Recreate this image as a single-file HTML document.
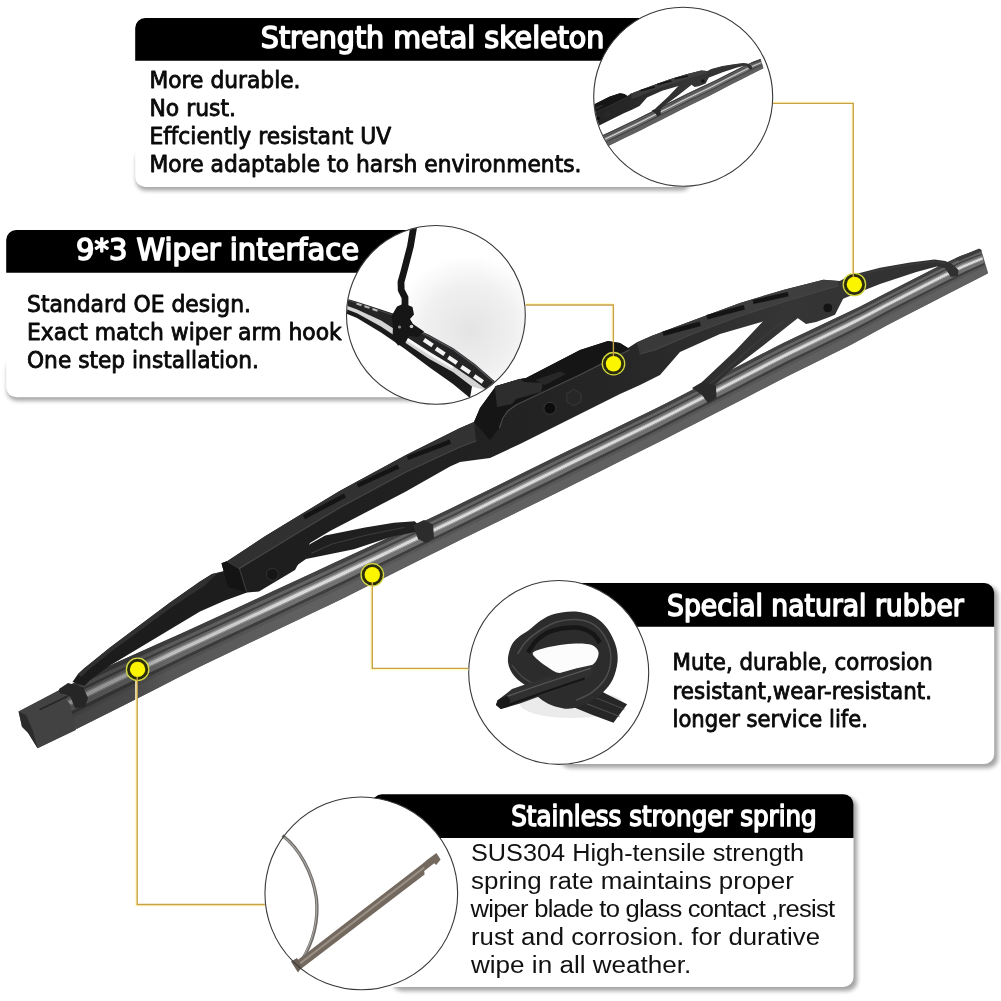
<!DOCTYPE html>
<html lang="en">
<head>
<meta charset="utf-8">
<title>Wiper blade features</title>
<style>
html,body{margin:0;padding:0;background:#fff;}
body{width:1001px;height:1001px;overflow:hidden;position:relative;}
svg{position:absolute;left:0;top:0;display:block;will-change:transform;}
.t{font-family:"DejaVu Sans","Liberation Sans",sans-serif;font-size:22.5px;fill:#0a0a0a;stroke:#0a0a0a;stroke-width:0.85px;stroke-linejoin:round;}
.h{font-family:"DejaVu Sans Condensed","DejaVu Sans","Liberation Sans",sans-serif;font-size:29.4px;fill:#fff;stroke:#fff;stroke-width:1.5px;stroke-linejoin:round;}
.a{font-family:"Liberation Sans",sans-serif;font-size:23px;fill:#111;}
.ln{fill:none;stroke:#c9a046;stroke-width:1.35;}
.gl{fill:none;stroke:#fffbc6;stroke-width:1.8;}
.ring{fill:#2c2c0e;stroke:#d3d93f;stroke-width:1.3;}
.dot{fill:#fbf500;}
.circo{fill:none;stroke:#383838;stroke-width:1.1;}
</style>
</head>
<body>
<svg width="1001" height="1001" viewBox="0 0 1001 1001">
<defs>
<filter id="sh" x="-5%" y="-50%" width="110%" height="200%"><feGaussianBlur stdDeviation="1.9"/><feComponentTransfer><feFuncA type="linear" slope="0.36"/></feComponentTransfer></filter>
<radialGradient id="g2" gradientUnits="userSpaceOnUse" cx="470" cy="330" r="75"><stop offset="0" stop-color="#e4e4e4"/><stop offset="0.6" stop-color="#f0f0f0"/><stop offset="1" stop-color="#fff"/></radialGradient>
<linearGradient id="gdk" gradientUnits="userSpaceOnUse" x1="60" y1="0" x2="300" y2="0"><stop offset="0" stop-color="#1c1c1c" stop-opacity="0.42"/><stop offset="0.3" stop-color="#1c1c1c" stop-opacity="0.34"/><stop offset="0.45" stop-color="#1c1c1c" stop-opacity="0.15"/><stop offset="1" stop-color="#1c1c1c" stop-opacity="0"/></linearGradient>
<linearGradient id="gbody" gradientUnits="userSpaceOnUse" x1="70" y1="0" x2="960" y2="0"><stop offset="0" stop-color="#1b1b1b"/><stop offset="0.45" stop-color="#212121"/><stop offset="0.62" stop-color="#262626"/><stop offset="0.8" stop-color="#353535"/><stop offset="1" stop-color="#303030"/></linearGradient>
<linearGradient id="gtop" gradientUnits="userSpaceOnUse" x1="70" y1="0" x2="960" y2="0"><stop offset="0" stop-color="#2e2e2e"/><stop offset="0.5" stop-color="#333"/><stop offset="0.8" stop-color="#3f3f3f"/><stop offset="1" stop-color="#3a3a3a"/></linearGradient>
<clipPath id="c1"><circle cx="683.2" cy="96.7" r="89"/></clipPath>
<clipPath id="c2"><circle cx="435.9" cy="314.9" r="89"/></clipPath>
<clipPath id="c3"><ellipse cx="558.7" cy="672.45" rx="89.5" ry="91.4"/></clipPath>
<clipPath id="c4"><circle cx="361.3" cy="893.2" r="95.6"/></clipPath>
</defs>
<rect width="1001" height="1001" fill="#fff"/>

<!-- PANELS -->
<g id="panels">
<g filter="url(#sh)" fill="#000">
<rect x="136" y="150" width="555" height="40.6" rx="10"/>
<rect x="7" y="360" width="440" height="40.8" rx="10"/>
<rect x="560" y="586" width="438" height="182" rx="10"/>
<rect x="392" y="797" width="465.2" height="194" rx="10"/>
</g>
<rect x="135.2" y="18" width="557" height="169" rx="10" fill="#fff"/>
<path d="M135.2 60.7V28a10 10 0 0 1 10-10H700v42.7z" fill="#000"/>
<rect x="6.2" y="230" width="442" height="167.2" rx="10" fill="#fff"/>
<path d="M6.2 272.8V240a10 10 0 0 1 10-10H450v42.8z" fill="#000"/>
<rect x="540" y="583" width="454.2" height="181" rx="10" fill="#fff"/>
<path d="M540 583H984.2a10 10 0 0 1 10 10v33.7H540z" fill="#000"/>
<rect x="372" y="794.2" width="481.5" height="192.8" rx="10" fill="#fff"/>
<path d="M372 838V804.2a10 10 0 0 1 10-10H843.500a10 10 0 0 1 10 10v33.8z" fill="#000"/>
</g>

<!-- TEXT -->
<g id="text">
<text class="h" x="260.8" y="48.2" textLength="343.6" lengthAdjust="spacingAndGlyphs">Strength metal skeleton</text>
<text class="t" x="149.5" y="87.8" textLength="151" lengthAdjust="spacingAndGlyphs">More durable.</text>
<text class="t" x="149.5" y="115.8" textLength="86.5" lengthAdjust="spacingAndGlyphs">No rust.</text>
<text class="t" x="149.5" y="143.6" textLength="241.7" lengthAdjust="spacingAndGlyphs">Effciently resistant UV</text>
<text class="t" x="149.5" y="171.6" textLength="432" lengthAdjust="spacingAndGlyphs">More adaptable to harsh environments.</text>

<text class="h" x="76" y="259.7" textLength="283" lengthAdjust="spacingAndGlyphs">9*3 Wiper interface</text>
<text class="t" x="27" y="312" textLength="224" lengthAdjust="spacingAndGlyphs">Standard OE design.</text>
<text class="t" x="27" y="340" textLength="314.7" lengthAdjust="spacingAndGlyphs">Exact match wiper arm hook</text>
<text class="t" x="27" y="367.5" textLength="232" lengthAdjust="spacingAndGlyphs">One step installation.</text>

<text class="h" x="667" y="615.8" textLength="296.8" lengthAdjust="spacingAndGlyphs">Special natural rubber</text>
<text class="t" x="672.5" y="670.3" textLength="260.3" lengthAdjust="spacingAndGlyphs">Mute, durable, corrosion</text>
<text class="t" x="672.5" y="698.7" textLength="259.5" lengthAdjust="spacingAndGlyphs">resistant,wear-resistant.</text>
<text class="t" x="672.5" y="726.9" textLength="195.5" lengthAdjust="spacingAndGlyphs">longer service life.</text>

<text class="h" x="511.2" y="825.7" textLength="305.5" lengthAdjust="spacingAndGlyphs" style="font-size:28px">Stainless stronger spring</text>
<text class="a" x="471" y="861.2" textLength="333" lengthAdjust="spacingAndGlyphs">SUS304 High-tensile strength</text>
<text class="a" x="471" y="889" textLength="322.8" lengthAdjust="spacingAndGlyphs">spring rate maintains proper</text>
<text class="a" x="470.5" y="917" textLength="363.8" lengthAdjust="spacingAndGlyphs" style="letter-spacing:-0.68px">wiper blade to glass contact ,resist</text>
<text class="a" x="471" y="944.9" textLength="349" lengthAdjust="spacingAndGlyphs">rust and corrosion. for durative</text>
<text class="a" x="471" y="973" textLength="220.3" lengthAdjust="spacingAndGlyphs">wipe in all weather.</text>
</g>

<!-- CIRCLES -->
<g id="circles">
<circle cx="683.2" cy="96.7" r="89.5" fill="#fff"/>
<g clip-path="url(#c1)"><use href="#wiper" transform="translate(390,-33.5) scale(0.378,0.372)"/></g>
<circle class="circo" cx="683.2" cy="96.7" r="89.5"/>
<circle cx="435.9" cy="314.9" r="89.4" fill="#fff"/>
<g clip-path="url(#c2)">
<rect x="346" y="225" width="180" height="180" fill="url(#g2)"/>
<path d="M346.0 305.0 L357.0 309.6 L381.0 320.4 L405.0 336.0 L429.0 351.5 L453.0 365.9 L475.0 381.0 L486.0 389.0 L486.0 410.0 L346.0 410.0Z" fill="#fff" />
<path d="M345.0 305.2 L357.0 309.6 L381.0 320.4 L405.0 336.0 L429.0 351.5 L453.0 365.9 L475.0 381.0 L488.0 391.0 L472.0 386.5 L453.0 372.0 L429.0 358.7 L405.0 342.5 L381.0 326.4 L357.0 313.2 L345.0 308.6Z" fill="#d4d4d4" />
<path d="M405.0 336.0 L429.0 351.5 L453.0 365.9 L453.0 369.0 L429.0 355.0 L405.0 339.5Z" fill="#f6f6f6" />
<path d="M345.0 308.6 L357.0 313.2 L381.0 326.4 L405.0 342.5 L429.0 358.7 L453.0 372.0 L472.0 386.5 L470.0 398.0 L453.0 384.0 L429.0 367.0 L405.0 349.0 L381.0 332.4 L357.0 318.0 L345.0 313.2Z" fill="#1b1b1b" />
<path d="M345.0 298.2 L357.0 301.8 L381.0 309.6 L396.0 314.5 L412.0 327.0 L429.0 334.7 L453.0 347.9 L475.0 364.0 L495.0 381.5 L488.0 391.0 L475.0 381.0 L453.0 365.9 L429.0 351.5 L405.0 336.0 L381.0 320.4 L357.0 309.6 L345.0 305.2Z" fill="#242424" />
<path d="M346.0 299.5 L357.0 303.0 L381.0 311.0 L396.0 316.0" fill="none" stroke="#4a4a4a" stroke-width="1" stroke-linecap="round" stroke-linejoin="round" />
<path d="M413.0 329.0 L429.0 336.2 L453.0 349.4 L475.0 365.5 L493.0 381.5" fill="none" stroke="#55555c" stroke-width="1.2" stroke-linecap="round" stroke-linejoin="round" />
<path d="M356.5 303.6L361.5 305.2" stroke="#b9b9b9" stroke-width="2" stroke-linecap="butt" fill="none"/>
<path d="M364.5 306.2L369.5 307.9" stroke="#b9b9b9" stroke-width="2" stroke-linecap="butt" fill="none"/>
<path d="M372.5 309.0L377.5 310.8" stroke="#b9b9b9" stroke-width="2" stroke-linecap="butt" fill="none"/>
<path d="M424.0 339.7L432.6 345.5" stroke="#f4f4f4" stroke-width="4.2" stroke-linecap="butt" fill="none"/>
<path d="M435.9 348.5L444.5 354.3" stroke="#f4f4f4" stroke-width="4.2" stroke-linecap="butt" fill="none"/>
<path d="M448.3 357.3L456.9 363.1" stroke="#f4f4f4" stroke-width="4.2" stroke-linecap="butt" fill="none"/>
<path d="M461.3 366.7L469.9 372.5" stroke="#f4f4f4" stroke-width="4.2" stroke-linecap="butt" fill="none"/>
<path d="M474.2 376.1L482.8 381.9" stroke="#f4f4f4" stroke-width="4.2" stroke-linecap="butt" fill="none"/>
<path d="M391.5 316.0 L397.0 306.5 L404.0 303.5 L412.5 307.0 L414.0 314.5 L410.0 319.0 L413.0 324.0 L424.0 331.5 L418.0 337.0 L409.0 336.0 L405.0 343.5 L398.0 345.5 L392.5 338.0 L393.0 326.0Z" fill="#161616" />
<circle cx="399.5" cy="327" r="1.6" fill="#8a8a8a"/><circle cx="411.5" cy="326.5" r="1.8" fill="#cfcfcf"/>
<path d="M414.0 225.0 L410.5 246.0 L404.3 270.0 L401.0 282.0 L401.2 290.0 L405.0 297.5 L405.0 308.0" fill="none" stroke="#161616" stroke-width="6.8" stroke-linecap="round" stroke-linejoin="round" />
</g>
<circle class="circo" cx="435.9" cy="314.9" r="89.4"/>
<ellipse cx="558.7" cy="672.45" rx="90" ry="91.95" fill="#fff"/>
<g clip-path="url(#c3)">
<ellipse cx="572" cy="704" rx="52" ry="14" fill="#e6e6e6" opacity="0.8"/>
<path d="M591.9 685.9 L606.3 693.9 L627.1 704.3 L613.5 722.7 L591.9 714.7 L574.3 707.5Z" fill="#262626" />
<path d="M582.3 701.9 L619.1 716.3" fill="none" stroke="#4c4c4c" stroke-width="1.1" stroke-linecap="round" stroke-linejoin="round" />
<path d="M590.3 695.5 L623.9 709.1" fill="none" stroke="#474747" stroke-width="1.1" stroke-linecap="round" stroke-linejoin="round" />
<path d="M508.0 661.9C507.4 656.9 509.4 650.1 511.2 645.9C512.9 641.8 515.6 639.7 518.4 637.2C521.2 634.6 524.2 633.6 528.0 630.8C531.7 628.0 536.2 623.2 540.7 620.4C545.3 617.5 549.3 615.1 555.1 613.7C561.0 612.2 569.2 611.0 575.9 611.6C582.6 612.2 589.8 614.2 595.1 617.2C600.4 620.1 604.4 624.4 607.9 629.2C611.3 634.0 614.3 640.5 615.9 645.9C617.5 651.4 618.0 656.3 617.5 661.9C616.9 667.5 615.1 674.5 612.7 679.5C610.3 684.6 607.1 688.4 603.1 692.3C599.1 696.2 594.0 700.0 588.7 702.7C583.4 705.4 576.7 708.0 571.1 708.6C565.5 709.2 559.9 707.8 555.1 706.4C550.3 705.0 546.9 703.4 542.3 700.3C537.8 697.2 532.6 691.5 528.0 687.5C523.3 683.5 517.7 680.6 514.4 676.3C511.0 672.1 508.5 667.0 508.0 661.9Z" fill="#2c2c2c"/>
<path d="M517.6 653.9C519.0 651.8 522.5 645.1 526.4 641.2C530.2 637.2 535.7 633.2 540.7 630.0C545.8 626.8 550.9 623.7 556.7 622.0C562.6 620.2 569.8 619.2 575.9 619.6C582.0 620.0 588.7 621.6 593.5 624.4C598.3 627.2 601.9 632.0 604.7 636.4C607.5 640.8 609.3 645.9 610.3 650.7C611.2 655.5 611.2 660.3 610.3 665.1C609.3 669.9 607.7 675.0 604.7 679.5C601.6 684.0 596.7 688.8 591.9 692.3C587.1 695.8 578.6 699.0 575.9 700.3" fill="none" stroke="#4e4e4e" stroke-width="1.5"/>
<path d="M528.0 652.3C529.6 650.2 533.5 643.1 537.5 639.6C541.5 636.0 545.5 632.8 551.9 630.8C558.3 628.8 569.2 627.2 575.9 627.6C582.6 628.0 587.9 630.6 591.9 633.2C595.9 635.7 598.6 641.2 599.9 642.7" fill="none" stroke="#161616" stroke-width="4.5"/>
<path d="M512.0 665.1C513.6 667.0 518.1 673.3 521.6 676.3C525.0 679.4 528.5 681.4 532.7 683.5C537.0 685.6 544.7 688.2 547.1 689.1" fill="none" stroke="#4a4a4a" stroke-width="1.2"/>
<path d="M532.7 653.9C532.2 650.9 539.4 649.8 543.9 648.3C548.5 646.9 554.6 645.9 559.9 645.1C565.3 644.3 570.6 643.5 575.9 643.5C581.2 643.5 588.1 643.5 591.9 645.1C595.7 646.7 598.5 649.9 598.6 653.1C598.7 656.4 596.5 662.1 592.7 664.8C588.9 667.5 581.4 667.7 575.9 669.1C570.4 670.5 564.7 673.5 559.9 673.1C555.1 672.7 551.7 669.9 547.1 666.7C542.6 663.5 533.3 657.0 532.7 653.9Z" fill="#fcfcfc"/>
<path d="M595.1 664.3 L575.9 668.6 L559.9 673.1 L528.0 683.5 L512.0 689.1 L497.6 700.3 L496.0 705.1 L500.8 709.1 L520.0 703.5 L543.9 694.7 L569.5 685.9 L590.3 677.1Z" fill="#303030" />
<path d="M507.2 696.3 L543.9 683.5 L590.3 668.3" fill="none" stroke="#585858" stroke-width="1.3" stroke-linecap="round" stroke-linejoin="round" />
<path d="M504.0 706.7 L543.9 692.3 L583.9 678.7" fill="none" stroke="#151515" stroke-width="2.2" stroke-linecap="round" stroke-linejoin="round" />
<path d="M497.6 700.3 L496.0 705.1 L500.8 709.1 L508.0 706.4 L510.4 700.3 L507.2 695.5Z" fill="#1a1a1a" />
</g>
<ellipse class="circo" cx="558.7" cy="672.45" rx="90" ry="91.95"/>
<circle cx="361.3" cy="893.4" r="96.35" fill="#fff"/>
<g>
<path d="M282.5 835.5C299 848 312.5 872 316.4 898C319 922 312 944 301.5 961" fill="none" stroke="#6f6c68" stroke-width="3.3"/>
<path d="M283 836.2C299.5 849 312.8 872.5 316.2 898C318.6 921.5 311.5 943.5 301.3 960.5" fill="none" stroke="#a9a7a3" stroke-width="1.1"/>
<path d="M293.4 963.3 L298.2 971.0 L424.6 874.4 L424.2 871.0 L434.2 863.2 L436.2 865.0 L440.6 859.6 L436.4 853.0 L427.6 859.6 L421.6 864.4Z" fill="#74695f" />
<path d="M296.8 966.0 L423.5 868.0" fill="none" stroke="#9a8f84" stroke-width="2.2" stroke-linecap="round" stroke-linejoin="round" />
<path d="M291.0 961.5 L297.0 958.0 L302.0 966.5 L298.0 972.5Z" fill="#6a5f55" />
</g>
<circle class="circo" cx="361.3" cy="893.4" r="96.35"/>
</g>

<!-- WIPER -->
<g id="wiper">
<path d="M18.6 711.4 L39.1 700.7 L59.6 690.0 L80.0 680.0 L100.5 670.0 L121.0 660.5 L141.5 651.3 L161.9 642.1 L182.4 632.9 L202.9 623.7 L223.4 614.2 L243.8 604.7 L264.3 595.2 L284.8 585.8 L305.3 576.3 L325.7 566.8 L346.2 557.3 L366.7 547.8 L387.2 538.2 L407.7 528.7 L428.1 519.2 L448.6 509.6 L469.1 499.6 L489.6 489.5 L510.0 479.4 L530.5 469.3 L551.0 459.1 L571.5 449.2 L591.9 439.3 L612.4 429.4 L632.9 419.6 L653.4 409.7 L673.9 399.4 L694.3 388.8 L714.8 378.3 L735.3 367.7 L755.8 357.1 L776.2 346.5 L796.7 336.6 L817.2 326.9 L837.7 317.2 L858.1 307.5 L878.6 296.9 L899.1 286.4 L919.6 276.0 L940.0 265.6 L960.5 256.0 L981.0 249.0 L988.2 273.2 L968.0 283.6 L947.7 294.0 L927.5 304.4 L907.3 314.8 L887.1 325.2 L866.8 336.3 L846.6 346.9 L826.4 356.9 L806.2 367.0 L785.9 377.0 L765.7 387.4 L745.5 397.9 L725.3 408.2 L705.0 418.5 L684.8 428.8 L664.6 439.2 L644.4 449.3 L624.1 459.3 L603.9 469.4 L583.7 479.4 L563.5 489.5 L543.2 499.4 L523.0 509.3 L502.8 519.2 L482.6 529.1 L462.3 539.0 L442.1 548.9 L421.9 559.0 L401.7 569.1 L381.4 579.2 L361.2 589.3 L341.0 599.4 L320.8 609.1 L300.5 618.7 L280.3 628.3 L260.1 637.9 L239.9 647.5 L219.6 657.2 L199.4 666.8 L179.2 677.1 L159.0 687.4 L138.7 697.7 L118.5 707.9 L98.3 718.0 L78.1 728.1 L57.8 738.2 L37.6 748.3Z" fill="#5e5e5e" />
<path d="M58.0 690.8 L77.6 681.2 L97.2 671.6 L116.9 662.3 L136.5 653.5 L156.1 644.7 L175.7 635.9 L195.3 627.1 L214.9 618.1 L234.6 609.0 L254.2 599.9 L273.8 590.8 L293.4 581.8 L313.0 572.7 L332.6 563.6 L352.3 554.5 L371.9 545.4 L391.5 536.2 L411.1 527.1 L430.7 518.0 L450.3 508.8 L470.0 499.1 L489.6 489.5 L509.2 479.8 L528.8 470.1 L548.4 460.4 L568.0 450.8 L587.7 441.4 L607.3 431.9 L626.9 422.5 L646.5 413.0 L666.1 403.3 L685.7 393.2 L705.4 383.1 L725.0 373.0 L744.6 362.9 L764.2 352.7 L783.8 342.7 L803.4 333.4 L823.1 324.1 L842.7 314.8 L862.3 305.4 L881.9 295.2 L901.5 285.2 L921.1 275.2 L940.8 265.3 L960.4 256.1 L980.0 249.0 L980.8 251.7 L961.2 259.1 L941.6 268.4 L922.0 278.3 L902.4 288.3 L882.8 298.3 L863.2 308.5 L843.7 318.1 L824.1 327.4 L804.5 336.7 L784.9 346.1 L765.3 356.0 L745.7 366.2 L726.1 376.3 L706.5 386.4 L686.9 396.5 L667.3 406.6 L647.8 416.3 L628.2 425.7 L608.6 435.2 L589.0 444.7 L569.4 454.2 L549.8 463.7 L530.2 473.4 L510.6 483.1 L491.0 492.7 L471.4 502.4 L451.8 512.1 L432.3 521.2 L412.7 530.4 L393.1 539.6 L373.5 548.8 L353.9 558.0 L334.3 567.2 L314.7 576.3 L295.1 585.4 L275.5 594.5 L255.9 603.6 L236.4 612.7 L216.8 621.8 L197.2 630.8 L177.6 639.7 L158.0 648.6 L138.4 657.5 L118.8 666.5 L99.2 675.8 L79.6 685.4 L60.0 695.0Z" fill="#424242" />
<path d="M60.0 695.0 L79.6 685.4 L99.2 675.8 L118.8 666.5 L138.4 657.5 L158.0 648.6 L177.6 639.7 L197.2 630.8 L216.8 621.8 L236.4 612.7 L255.9 603.6 L275.5 594.5 L295.1 585.4 L314.7 576.3 L334.3 567.2 L353.9 558.0 L373.5 548.8 L393.1 539.6 L412.7 530.4 L432.3 521.2 L451.8 512.1 L471.4 502.4 L491.0 492.7 L510.6 483.1 L530.2 473.4 L549.8 463.7 L569.4 454.2 L589.0 444.7 L608.6 435.2 L628.2 425.7 L647.8 416.3 L667.3 406.6 L686.9 396.5 L706.5 386.4 L726.1 376.3 L745.7 366.2 L765.3 356.0 L784.9 346.1 L804.5 336.7 L824.1 327.4 L843.7 318.1 L863.2 308.5 L882.8 298.3 L902.4 288.3 L922.0 278.3 L941.6 268.4 L961.2 259.1 L980.8 251.7 L981.4 253.7 L961.8 261.3 L942.2 270.7 L922.7 280.6 L903.1 290.6 L883.5 300.6 L863.9 310.8 L844.4 320.4 L824.8 329.8 L805.2 339.1 L785.7 348.5 L766.1 358.5 L746.5 368.6 L726.9 378.7 L707.4 388.8 L687.8 398.9 L668.2 408.9 L648.7 418.6 L629.1 428.1 L609.5 437.6 L589.9 447.1 L570.4 456.6 L550.8 466.2 L531.2 475.8 L511.7 485.5 L492.1 495.1 L472.5 504.8 L452.9 514.4 L433.4 523.6 L413.8 532.8 L394.2 542.1 L374.7 551.3 L355.1 560.5 L335.5 569.8 L315.9 578.9 L296.4 588.0 L276.8 597.1 L257.2 606.2 L237.7 615.3 L218.1 624.4 L198.5 633.5 L178.9 642.4 L159.4 651.4 L139.8 660.4 L120.2 669.5 L100.7 678.8 L81.1 688.4 L61.5 698.0Z" fill="#656565" />
<path d="M61.5 698.0 L81.1 688.4 L100.7 678.8 L120.2 669.5 L139.8 660.4 L159.4 651.4 L178.9 642.4 L198.5 633.5 L218.1 624.4 L237.7 615.3 L257.2 606.2 L276.8 597.1 L296.4 588.0 L315.9 578.9 L335.5 569.8 L355.1 560.5 L374.7 551.3 L394.2 542.1 L413.8 532.8 L433.4 523.6 L452.9 514.4 L472.5 504.8 L492.1 495.1 L511.7 485.5 L531.2 475.8 L550.8 466.2 L570.4 456.6 L589.9 447.1 L609.5 437.6 L629.1 428.1 L648.7 418.6 L668.2 408.9 L687.8 398.9 L707.4 388.8 L726.9 378.7 L746.5 368.6 L766.1 358.5 L785.7 348.5 L805.2 339.1 L824.8 329.8 L844.4 320.4 L863.9 310.8 L883.5 300.6 L903.1 290.6 L922.7 280.6 L942.2 270.7 L961.8 261.3 L981.4 253.7 L981.8 255.1 L962.2 262.8 L942.7 272.2 L923.1 282.1 L903.5 292.1 L884.0 302.1 L864.4 312.4 L844.9 322.1 L825.3 331.4 L805.7 340.8 L786.2 350.2 L766.6 360.1 L747.1 370.3 L727.5 380.4 L708.0 390.4 L688.4 400.5 L668.8 410.5 L649.3 420.3 L629.7 429.7 L610.2 439.2 L590.6 448.7 L571.0 458.2 L551.5 467.8 L531.9 477.5 L512.4 487.1 L492.8 496.7 L473.3 506.4 L453.7 516.0 L434.1 525.2 L414.6 534.5 L395.0 543.8 L375.5 553.0 L355.9 562.3 L336.3 571.5 L316.8 580.7 L297.2 589.8 L277.7 598.9 L258.1 608.0 L238.6 617.2 L219.0 626.3 L199.4 635.3 L179.9 644.3 L160.3 653.4 L140.8 662.4 L121.2 671.5 L101.7 680.9 L82.1 690.5 L62.5 700.1Z" fill="#434343" />
<path d="M62.5 700.1 L82.1 690.5 L101.7 680.9 L121.2 671.5 L140.8 662.4 L160.3 653.4 L179.9 644.3 L199.4 635.3 L219.0 626.3 L238.6 617.2 L258.1 608.0 L277.7 598.9 L297.2 589.8 L316.8 580.7 L336.3 571.5 L355.9 562.3 L375.5 553.0 L395.0 543.8 L414.6 534.5 L434.1 525.2 L453.7 516.0 L473.3 506.4 L492.8 496.7 L512.4 487.1 L531.9 477.5 L551.5 467.8 L571.0 458.2 L590.6 448.7 L610.2 439.2 L629.7 429.7 L649.3 420.3 L668.8 410.5 L688.4 400.5 L708.0 390.4 L727.5 380.4 L747.1 370.3 L766.6 360.1 L786.2 350.2 L805.7 340.8 L825.3 331.4 L844.9 322.1 L864.4 312.4 L884.0 302.1 L903.5 292.1 L923.1 282.1 L942.7 272.2 L962.2 262.8 L981.8 255.1 L982.2 256.7 L962.7 264.6 L943.2 274.1 L923.6 284.0 L904.1 294.0 L884.5 304.0 L865.0 314.3 L845.4 324.0 L825.9 333.4 L806.4 342.8 L786.8 352.2 L767.3 362.1 L747.7 372.3 L728.2 382.4 L708.6 392.4 L689.1 402.4 L669.6 412.5 L650.0 422.2 L630.5 431.7 L610.9 441.2 L591.4 450.7 L571.8 460.2 L552.3 469.8 L532.8 479.4 L513.2 489.1 L493.7 498.7 L474.1 508.3 L454.6 517.9 L435.0 527.2 L415.5 536.5 L396.0 545.8 L376.4 555.1 L356.9 564.4 L337.3 573.7 L317.8 582.8 L298.2 592.0 L278.7 601.1 L259.2 610.2 L239.6 619.3 L220.1 628.4 L200.5 637.5 L181.0 646.5 L161.5 655.7 L141.9 664.8 L122.4 674.0 L102.8 683.4 L83.3 693.0 L63.7 702.6Z" fill="#707070" />
<path d="M63.6 702.2 L83.1 692.6 L102.6 683.0 L122.2 673.6 L141.7 664.4 L161.3 655.3 L180.8 646.2 L200.4 637.2 L219.9 628.1 L239.5 619.0 L259.0 609.9 L278.5 600.7 L298.1 591.6 L317.6 582.5 L337.2 573.3 L356.7 564.0 L376.3 554.8 L395.8 545.5 L415.4 536.2 L434.9 526.9 L454.5 517.6 L474.0 508.0 L493.5 498.4 L513.1 488.8 L532.6 479.1 L552.2 469.5 L571.7 459.9 L591.3 450.4 L610.8 440.9 L630.4 431.4 L649.9 421.9 L669.4 412.2 L689.0 402.1 L708.5 392.1 L728.1 382.1 L747.6 372.0 L767.2 361.8 L786.7 351.9 L806.3 342.5 L825.8 333.1 L845.3 323.7 L864.9 314.0 L884.4 303.7 L904.0 293.7 L923.5 283.7 L943.1 273.8 L962.6 264.3 L982.2 256.4 L982.4 257.2 L962.8 265.2 L943.3 274.6 L923.8 284.5 L904.2 294.5 L884.7 304.6 L865.2 314.8 L845.6 324.6 L826.1 334.0 L806.5 343.4 L787.0 352.8 L767.5 362.7 L747.9 372.9 L728.4 383.0 L708.9 393.0 L689.3 403.0 L669.8 413.0 L650.2 422.8 L630.7 432.3 L611.2 441.8 L591.6 451.3 L572.1 460.8 L552.6 470.4 L533.0 480.0 L513.5 489.7 L493.9 499.3 L474.4 508.9 L454.9 518.5 L435.3 527.8 L415.8 537.1 L396.3 546.4 L376.7 555.7 L357.2 565.0 L337.6 574.3 L318.1 583.5 L298.6 592.6 L279.0 601.7 L259.5 610.9 L239.9 620.0 L220.4 629.1 L200.9 638.2 L181.3 647.2 L161.8 656.4 L142.3 665.5 L122.7 674.7 L103.2 684.1 L83.6 693.8 L64.1 703.4Z" fill="#a2a2a2" />
<path d="M64.1 703.4 L83.6 693.8 L103.2 684.1 L122.7 674.7 L142.3 665.5 L161.8 656.4 L181.3 647.2 L200.9 638.2 L220.4 629.1 L239.9 620.0 L259.5 610.9 L279.0 601.7 L298.6 592.6 L318.1 583.5 L337.6 574.3 L357.2 565.0 L376.7 555.7 L396.3 546.4 L415.8 537.1 L435.3 527.8 L454.9 518.5 L474.4 508.9 L493.9 499.3 L513.5 489.7 L533.0 480.0 L552.6 470.4 L572.1 460.8 L591.6 451.3 L611.2 441.8 L630.7 432.3 L650.2 422.8 L669.8 413.0 L689.3 403.0 L708.9 393.0 L728.4 383.0 L747.9 372.9 L767.5 362.7 L787.0 352.8 L806.5 343.4 L826.1 334.0 L845.6 324.6 L865.2 314.8 L884.7 304.6 L904.2 294.5 L923.8 284.5 L943.3 274.6 L962.8 265.2 L982.4 257.2 L983.1 259.5 L963.6 267.8 L944.0 277.3 L924.5 287.2 L905.0 297.2 L885.5 307.2 L866.0 317.5 L846.5 327.4 L826.9 336.8 L807.4 346.3 L787.9 355.7 L768.4 365.6 L748.9 375.7 L729.4 385.8 L709.9 395.8 L690.3 405.8 L670.8 415.8 L651.3 425.6 L631.8 435.1 L612.3 444.6 L592.8 454.2 L573.3 463.7 L553.7 473.3 L534.2 482.9 L514.7 492.5 L495.2 502.1 L475.7 511.7 L456.2 521.3 L436.7 530.6 L417.1 539.9 L397.6 549.3 L378.1 558.7 L358.6 568.0 L339.1 577.4 L319.6 586.6 L300.0 595.7 L280.5 604.9 L261.0 614.0 L241.5 623.1 L222.0 632.3 L202.5 641.4 L183.0 650.5 L163.4 659.7 L143.9 669.0 L124.4 678.3 L104.9 687.7 L85.4 697.4 L65.9 707.0Z" fill="#dadada" />
<path d="M65.9 707.0 L85.4 697.4 L104.9 687.7 L124.4 678.3 L143.9 669.0 L163.4 659.7 L183.0 650.5 L202.5 641.4 L222.0 632.3 L241.5 623.1 L261.0 614.0 L280.5 604.9 L300.0 595.7 L319.6 586.6 L339.1 577.4 L358.6 568.0 L378.1 558.7 L397.6 549.3 L417.1 539.9 L436.7 530.6 L456.2 521.3 L475.7 511.7 L495.2 502.1 L514.7 492.5 L534.2 482.9 L553.7 473.3 L573.3 463.7 L592.8 454.2 L612.3 444.6 L631.8 435.1 L651.3 425.6 L670.8 415.8 L690.3 405.8 L709.9 395.8 L729.4 385.8 L748.9 375.7 L768.4 365.6 L787.9 355.7 L807.4 346.3 L826.9 336.8 L846.5 327.4 L866.0 317.5 L885.5 307.2 L905.0 297.2 L924.5 287.2 L944.0 277.3 L963.6 267.8 L983.1 259.5 L983.3 260.2 L963.8 268.6 L944.3 278.2 L924.8 288.1 L905.3 298.1 L885.7 308.1 L866.2 318.4 L846.7 328.3 L827.2 337.7 L807.7 347.2 L788.2 356.6 L768.7 366.5 L749.2 376.6 L729.7 386.7 L710.2 396.7 L690.7 406.7 L671.2 416.7 L651.7 426.5 L632.1 436.0 L612.6 445.5 L593.1 455.1 L573.6 464.6 L554.1 474.2 L534.6 483.8 L515.1 493.4 L495.6 503.0 L476.1 512.6 L456.6 522.2 L437.1 531.5 L417.6 540.9 L398.1 550.2 L378.5 559.6 L359.0 569.0 L339.5 578.4 L320.0 587.6 L300.5 596.7 L281.0 605.9 L261.5 615.0 L242.0 624.1 L222.5 633.3 L203.0 642.4 L183.5 651.5 L164.0 660.8 L144.5 670.1 L124.9 679.4 L105.4 688.9 L85.9 698.5 L66.4 708.1Z" fill="#9c9c9c" />
<path d="M66.4 708.1 L85.9 698.5 L105.4 688.9 L124.9 679.4 L144.5 670.1 L164.0 660.8 L183.5 651.5 L203.0 642.4 L222.5 633.3 L242.0 624.1 L261.5 615.0 L281.0 605.9 L300.5 596.7 L320.0 587.6 L339.5 578.4 L359.0 569.0 L378.5 559.6 L398.1 550.2 L417.6 540.9 L437.1 531.5 L456.6 522.2 L476.1 512.6 L495.6 503.0 L515.1 493.4 L534.6 483.8 L554.1 474.2 L573.6 464.6 L593.1 455.1 L612.6 445.5 L632.1 436.0 L651.7 426.5 L671.2 416.7 L690.7 406.7 L710.2 396.7 L729.7 386.7 L749.2 376.6 L768.7 366.5 L788.2 356.6 L807.7 347.2 L827.2 337.7 L846.7 328.3 L866.2 318.4 L885.7 308.1 L905.3 298.1 L924.8 288.1 L944.3 278.2 L963.8 268.6 L983.3 260.2 L984.1 263.1 L964.6 271.8 L945.2 281.4 L925.7 291.4 L906.2 301.3 L886.7 311.3 L867.2 321.7 L847.8 331.7 L828.3 341.2 L808.8 350.7 L789.3 360.1 L769.8 370.0 L750.4 380.1 L730.9 390.2 L711.4 400.1 L691.9 410.1 L672.4 420.1 L653.0 429.9 L633.5 439.4 L614.0 449.0 L594.5 458.5 L575.0 468.1 L555.6 477.7 L536.1 487.3 L516.6 496.8 L497.1 506.4 L477.6 516.0 L458.2 525.5 L438.7 534.9 L419.2 544.3 L399.7 553.8 L380.2 563.2 L360.8 572.6 L341.3 582.1 L321.8 591.3 L302.3 600.5 L282.8 609.7 L263.4 618.8 L243.9 628.0 L224.4 637.1 L204.9 646.3 L185.4 655.4 L166.0 664.9 L146.5 674.3 L127.0 683.7 L107.5 693.2 L88.0 702.9 L68.6 712.5Z" fill="#727272" />
<path d="M68.6 712.5 L88.0 702.9 L107.5 693.2 L127.0 683.7 L146.5 674.3 L166.0 664.9 L185.4 655.4 L204.9 646.3 L224.4 637.1 L243.9 628.0 L263.4 618.8 L282.8 609.7 L302.3 600.5 L321.8 591.3 L341.3 582.1 L360.8 572.6 L380.2 563.2 L399.7 553.8 L419.2 544.3 L438.7 534.9 L458.2 525.5 L477.6 516.0 L497.1 506.4 L516.6 496.8 L536.1 487.3 L555.6 477.7 L575.0 468.1 L594.5 458.5 L614.0 449.0 L633.5 439.4 L653.0 429.9 L672.4 420.1 L691.9 410.1 L711.4 400.1 L730.9 390.2 L750.4 380.1 L769.8 370.0 L789.3 360.1 L808.8 350.7 L828.3 341.2 L847.8 331.7 L867.2 321.7 L886.7 311.3 L906.2 301.3 L925.7 291.4 L945.2 281.4 L964.6 271.8 L984.1 263.1 L984.7 265.1 L965.2 274.0 L945.8 283.7 L926.3 293.6 L906.8 303.6 L887.4 313.6 L867.9 324.0 L848.5 334.0 L829.0 343.6 L809.5 353.1 L790.1 362.6 L770.6 372.4 L751.2 382.5 L731.7 392.6 L712.2 402.5 L692.8 412.5 L673.3 422.4 L653.9 432.2 L634.4 441.8 L614.9 451.4 L595.5 460.9 L576.0 470.5 L556.6 480.1 L537.1 489.7 L517.6 499.2 L498.2 508.8 L478.7 518.3 L459.2 527.9 L439.8 537.3 L420.3 546.8 L400.9 556.2 L381.4 565.7 L361.9 575.2 L342.5 584.7 L323.0 594.0 L303.6 603.1 L284.1 612.3 L264.6 621.5 L245.2 630.6 L225.7 639.8 L206.3 649.0 L186.8 658.2 L167.3 667.7 L147.9 677.2 L128.4 686.7 L109.0 696.3 L89.5 705.9 L70.0 715.6Z" fill="#3e3e3e" />
<path d="M70.0 715.6 L89.5 705.9 L109.0 696.3 L128.4 686.7 L147.9 677.2 L167.3 667.7 L186.8 658.2 L206.3 649.0 L225.7 639.8 L245.2 630.6 L264.6 621.5 L284.1 612.3 L303.6 603.1 L323.0 594.0 L342.5 584.7 L361.9 575.2 L381.4 565.7 L400.9 556.2 L420.3 546.8 L439.8 537.3 L459.2 527.9 L478.7 518.3 L498.2 508.8 L517.6 499.2 L537.1 489.7 L556.6 480.1 L576.0 470.5 L595.5 460.9 L614.9 451.4 L634.4 441.8 L653.9 432.2 L673.3 422.4 L692.8 412.5 L712.2 402.5 L731.7 392.6 L751.2 382.5 L770.6 372.4 L790.1 362.6 L809.5 353.1 L829.0 343.6 L848.5 334.0 L867.9 324.0 L887.4 313.6 L906.8 303.6 L926.3 293.6 L945.8 283.7 L965.2 274.0 L984.7 265.1 L985.3 267.0 L965.8 276.2 L946.4 286.0 L926.9 295.9 L907.5 305.9 L888.1 315.9 L868.6 326.2 L849.2 336.4 L829.7 345.9 L810.3 355.5 L790.9 365.0 L771.4 374.9 L752.0 384.9 L732.5 395.0 L713.1 404.9 L693.6 414.9 L674.2 424.8 L654.8 434.6 L635.3 444.2 L615.9 453.8 L596.4 463.3 L577.0 472.9 L557.6 482.6 L538.1 492.1 L518.7 501.6 L499.2 511.2 L479.8 520.7 L460.3 530.2 L440.9 539.6 L421.5 549.2 L402.0 558.7 L382.6 568.2 L363.1 577.7 L343.7 587.3 L324.3 596.6 L304.8 605.8 L285.4 614.9 L265.9 624.1 L246.5 633.3 L227.0 642.5 L207.6 651.6 L188.2 660.9 L168.7 670.5 L149.3 680.1 L129.8 689.7 L110.4 699.3 L91.0 709.0 L71.5 718.6Z" fill="#575757" />
<path d="M71.5 718.6 L91.0 709.0 L110.4 699.3 L129.8 689.7 L149.3 680.1 L168.7 670.5 L188.2 660.9 L207.6 651.6 L227.0 642.5 L246.5 633.3 L265.9 624.1 L285.4 614.9 L304.8 605.8 L324.3 596.6 L343.7 587.3 L363.1 577.7 L382.6 568.2 L402.0 558.7 L421.5 549.2 L440.9 539.6 L460.3 530.2 L479.8 520.7 L499.2 511.2 L518.7 501.6 L538.1 492.1 L557.6 482.6 L577.0 472.9 L596.4 463.3 L615.9 453.8 L635.3 444.2 L654.8 434.6 L674.2 424.8 L693.6 414.9 L713.1 404.9 L732.5 395.0 L752.0 384.9 L771.4 374.9 L790.9 365.0 L810.3 355.5 L829.7 345.9 L849.2 336.4 L868.6 326.2 L888.1 315.9 L907.5 305.9 L926.9 295.9 L946.4 286.0 L965.8 276.2 L985.3 267.0 L987.2 273.7 L967.8 283.7 L948.5 293.6 L929.1 303.6 L909.7 313.5 L890.3 323.5 L871.0 334.0 L851.6 344.4 L832.2 354.0 L812.8 363.7 L793.4 373.3 L774.1 383.1 L754.7 393.1 L735.3 403.1 L715.9 413.0 L696.6 422.9 L677.2 432.7 L657.8 442.6 L638.4 452.2 L619.1 461.8 L599.7 471.5 L580.3 481.1 L560.9 490.7 L541.6 500.2 L522.2 509.7 L502.8 519.2 L483.4 528.7 L464.0 538.1 L444.7 547.7 L425.3 557.3 L405.9 567.0 L386.5 576.7 L367.2 586.3 L347.8 596.0 L328.4 605.4 L309.0 614.6 L289.7 623.8 L270.3 633.1 L250.9 642.3 L231.5 651.5 L212.2 660.7 L192.8 670.2 L173.4 680.1 L154.0 689.9 L134.6 699.8 L115.3 709.5 L95.9 719.2 L76.5 728.9Z" fill="#606060" />
<path d="M58.0 690.8 L76.6 681.7 L95.2 672.6 L113.8 663.7 L132.5 655.3 L151.1 647.0 L169.7 638.6 L188.3 630.2 L206.9 621.8 L225.5 613.2 L244.2 604.6 L262.8 595.9 L281.4 587.3 L300.0 578.7 L315.5 611.5 L297.2 620.3 L278.8 629.0 L260.4 637.8 L242.0 646.5 L223.6 655.3 L205.2 664.0 L186.8 673.2 L168.5 682.6 L150.1 692.0 L131.7 701.3 L113.3 710.5 L94.9 719.7 L76.5 728.9Z" fill="url(#gdk)" />
<path d="M18.6 711.4 L58.0 690.8 L64.0 697.0 L70.0 704.0 L76.0 730.0 L37.6 748.3 L28.0 732.7 L22.0 726.7Z" fill="#424242" />
<path d="M18.6 711.4 L22.0 726.7 L28.0 732.7 L37.6 748.3 L33.0 731.0 L26.0 715.0Z" fill="#2b2b2b" />
<path d="M40.0 709.5 L66.0 697.0" fill="none" stroke="#262626" stroke-width="1.6" stroke-linecap="round" stroke-linejoin="round" />
<path d="M955.0 258.6 L979.1 248.6 L982.0 251.0 L959.0 261.0Z" fill="#3c3c3c" />
<path d="M296.0 552.0 L325.2 535.6 L365.0 527.5 L393.9 522.8 L414.7 521.2 L424.0 530.0 L408.3 533.5 L392.3 536.6 L353.9 549.3 L306.0 559.0 L296.0 566.0Z" fill="url(#gbody)" />
<path d="M312.0 553.0 L332.0 544.0 L366.0 535.3 L404.0 527.5" fill="none" stroke="#3c3c3c" stroke-width="1.1" stroke-linecap="round" stroke-linejoin="round" />
<path d="M413.0 525.0 L424.0 520.0 L433.0 524.5 L434.0 538.0 L426.0 543.0 L418.0 539.0Z" fill="#2c2c2c" />
<path d="M768.0 316.0 L800.0 311.0 L798.0 318.0 L762.0 346.5 L728.0 372.5 L714.0 386.0 L702.0 382.0 L735.0 351.0Z" fill="url(#gbody)" />
<path d="M783.0 321.0 L748.0 350.0 L716.0 379.0 L708.0 385.0" fill="none" stroke="#3c3c3c" stroke-width="1.1" stroke-linecap="round" stroke-linejoin="round" />
<path d="M692.0 388.0 L703.0 381.5 L716.0 386.0 L716.5 398.0 L708.0 403.0 L702.0 395.0Z" fill="#2a2a2a" />
<path d="M72.5 682.0 L78.0 674.0 L84.0 668.5 L110.0 647.5 L140.0 625.0 L170.0 602.5 L200.0 581.5 L212.0 574.0 L224.0 571.0 L247.0 592.4 L225.0 600.5 L200.0 611.5 L170.0 629.5 L140.0 647.4 L110.0 665.4 L90.0 680.0 L84.5 686.0Z" fill="url(#gbody)" />
<path d="M78.0 674.0 L84.0 668.5 L110.0 647.5 L140.0 625.0 L170.0 602.5 L200.0 581.5 L212.0 574.0 L218.0 573.0 L204.0 586.0 L170.0 608.5 L140.0 630.5 L110.0 652.5 L88.0 670.5 L81.0 677.0Z" fill="#303030" />
<path d="M59.0 689.0 L68.0 683.0 L83.0 687.0 L88.0 698.0 L85.0 707.0 L75.0 708.0 L70.0 696.0 L60.0 693.0Z" fill="#262626" />
<path d="M836.0 283.0 L850.0 275.5 L880.0 267.7 L910.0 262.5 L934.4 259.5 L945.3 261.0 L952.0 264.0 L958.6 270.0 L958.0 276.0 L951.0 277.0 L945.0 268.0 L936.8 266.5 L916.3 272.0 L880.0 284.1 L852.9 294.8 L840.0 300.0Z" fill="url(#gbody)" />
<path d="M850.0 277.5 L880.0 269.8 L910.0 264.5 L934.0 261.5 L945.0 263.0" fill="none" stroke="#3a3a3a" stroke-width="1.6" stroke-linecap="round" stroke-linejoin="round" />
<path d="M221.5 563.2 L227.5 560.9 L265.0 536.2 L302.4 513.5 L340.0 490.8 L405.0 455.5 L460.0 428.0 L474.0 422.0 L480.0 408.0 L496.0 386.0 L520.0 379.0 L526.0 378.0 L580.0 350.0 L608.0 341.0 L620.0 343.0 L628.0 348.0 L636.6 342.4 L652.0 335.8 L696.0 319.3 L740.0 302.9 L784.0 289.7 L823.4 279.8 L840.0 281.0 L844.0 297.0 L835.0 314.7 L827.0 318.0 L816.0 322.0 L806.0 324.0 L792.0 314.0 L768.0 320.0 L720.0 334.0 L680.0 352.0 L660.0 375.0 L640.0 385.0 L620.0 394.0 L560.0 424.0 L520.0 444.0 L490.0 458.0 L460.0 462.0 L450.0 466.5 L405.0 492.0 L330.0 531.0 L310.0 543.0 L304.0 553.4 L295.0 570.0 L259.0 591.6 L247.0 592.4 L228.0 587.0Z" fill="url(#gbody)" />
<path d="M221.5 563.2 L227.5 560.9 L239.5 568.4 L247.0 592.4 L228.0 587.0Z" fill="#141414" />
<path d="M227.5 561.5 L239.5 568.8 L246.5 591.5" fill="none" stroke="#3a3a3a" stroke-width="1.2" stroke-linecap="round" stroke-linejoin="round" />
<path d="M227.5 560.9 L265.0 536.2 L302.4 513.5 L340.0 490.8 L405.0 455.5 L460.0 428.0 L474.0 422.0 L476.0 441.0 L460.0 447.0 L405.0 472.5 L340.0 507.5 L300.0 531.5 L239.5 568.4Z" fill="url(#gtop)" />
<path d="M239.5 568.4 L300.0 531.5 L340.0 507.5 L405.0 472.5 L460.0 447.0 L476.0 441.0" fill="none" stroke="#454545" stroke-width="1.3" stroke-linecap="round" stroke-linejoin="round" />
<path d="M304.0 517.2L345.0 495.5" stroke="#141414" stroke-width="4.4" stroke-linecap="butt" fill="none"/>
<path d="M357.5 485.4L398.4 466.6" stroke="#141414" stroke-width="4.4" stroke-linecap="butt" fill="none"/>
<path d="M407.5 458.0L450.4 441.6" stroke="#141414" stroke-width="4.4" stroke-linecap="butt" fill="none"/>
<circle cx="272.4" cy="574.4" r="6" fill="#161616" stroke="#343434" stroke-width="1"/>
<path d="M474.0 422.0 L480.0 408.0 L496.0 386.0 L520.0 379.0 L526.0 378.0 L580.0 350.0 L608.0 341.0 L620.0 343.0 L628.0 348.0 L629.0 350.0 L580.0 374.8 L516.4 404.7 L508.0 410.7 L499.6 427.5 L490.0 440.0Z" fill="#151515" />
<path d="M494.8 386.5 L520.0 378.8 L524.0 382.0 L543.0 383.0 L541.0 392.0 L516.0 399.0 L512.0 404.0 L497.0 407.0Z" fill="#2d2d2d" />
<path d="M535.0 380.0 L560.0 371.5 L566.0 374.0 L545.0 385.0Z" fill="#272727" />
<path d="M499.6 427.5 L503.0 418.0 L508.0 410.7 L516.4 404.7 L580.0 374.8 L629.0 350.0" fill="none" stroke="#4a4a4a" stroke-width="1.2" stroke-linecap="round" stroke-linejoin="round" />
<circle cx="549.9" cy="408.3" r="6" fill="#0c0c0c" stroke="#3a3a3a" stroke-width="1"/>
<path d="M573.9 389.4 L581.0 393.5 L581.0 401.7 L573.9 405.8 L566.8 401.7 L566.8 393.5Z" fill="#272727" stroke="#3c3c3c" stroke-width="0.8"/>
<path d="M636.6 342.4 L652.0 335.8 L696.0 319.3 L740.0 302.9 L784.0 289.7 L823.4 279.8 L838.0 281.0 L838.0 286.0 L828.0 288.6 L784.0 301.8 L740.0 316.0 L696.0 332.5 L654.2 350.1 L640.0 354.0Z" fill="url(#gtop)" />
<path d="M640.0 354.0 L654.2 350.1 L696.0 332.5 L740.0 316.0 L784.0 301.8 L828.0 288.6 L838.0 286.0" fill="none" stroke="#454545" stroke-width="1.2" stroke-linecap="round" stroke-linejoin="round" />
<path d="M663.0 333.8L700.3 323.7" stroke="#141414" stroke-width="4.6" stroke-linecap="butt" fill="none"/>
<path d="M706.9 317.3L744.3 307.3" stroke="#141414" stroke-width="4.6" stroke-linecap="butt" fill="none"/>
<path d="M753.1 302.0L788.2 294.1" stroke="#141414" stroke-width="4.2" stroke-linecap="butt" fill="none"/>
<circle cx="827.8" cy="307.9" r="5" fill="#141414" stroke="#383838" stroke-width="1"/>
</g>

<!-- DOT RINGS -->
<g id="rings">
<circle class="ring" cx="854.4" cy="284.5" r="11.2"/>
<circle class="ring" cx="613.5" cy="363.7" r="11.2"/>
<circle class="ring" cx="372.3" cy="574.8" r="11.2"/>
<circle class="ring" cx="137.6" cy="669.4" r="11.2"/>
</g>

<!-- CONNECTOR LINES -->
<g id="lines">
<path class="gl" d="M773 102.3H852.2V274"/>
<path class="gl" d="M525.6 303.9H612.3V340"/>
<path class="gl" d="M371.2 586V669.5H468.4"/>
<path class="gl" d="M136.1 681V905.6H264.8"/>
<path class="ln" d="M773 103.4H853.3V284"/>
<path class="ln" d="M525.6 305H613.4V363"/>
<path class="ln" d="M372.3 575V668.4H468.4"/>
<path class="ln" d="M137.2 669V904.5H264.8"/>
</g>

<!-- DOTS -->
<g id="dots">
<circle class="dot" cx="854.4" cy="284.5" r="7.7"/>
<circle class="dot" cx="613.5" cy="363.7" r="7.7"/>
<circle class="dot" cx="372.3" cy="574.8" r="7.7"/>
<circle class="dot" cx="137.6" cy="669.4" r="7.7"/>
</g>
</svg>
</body>
</html>
